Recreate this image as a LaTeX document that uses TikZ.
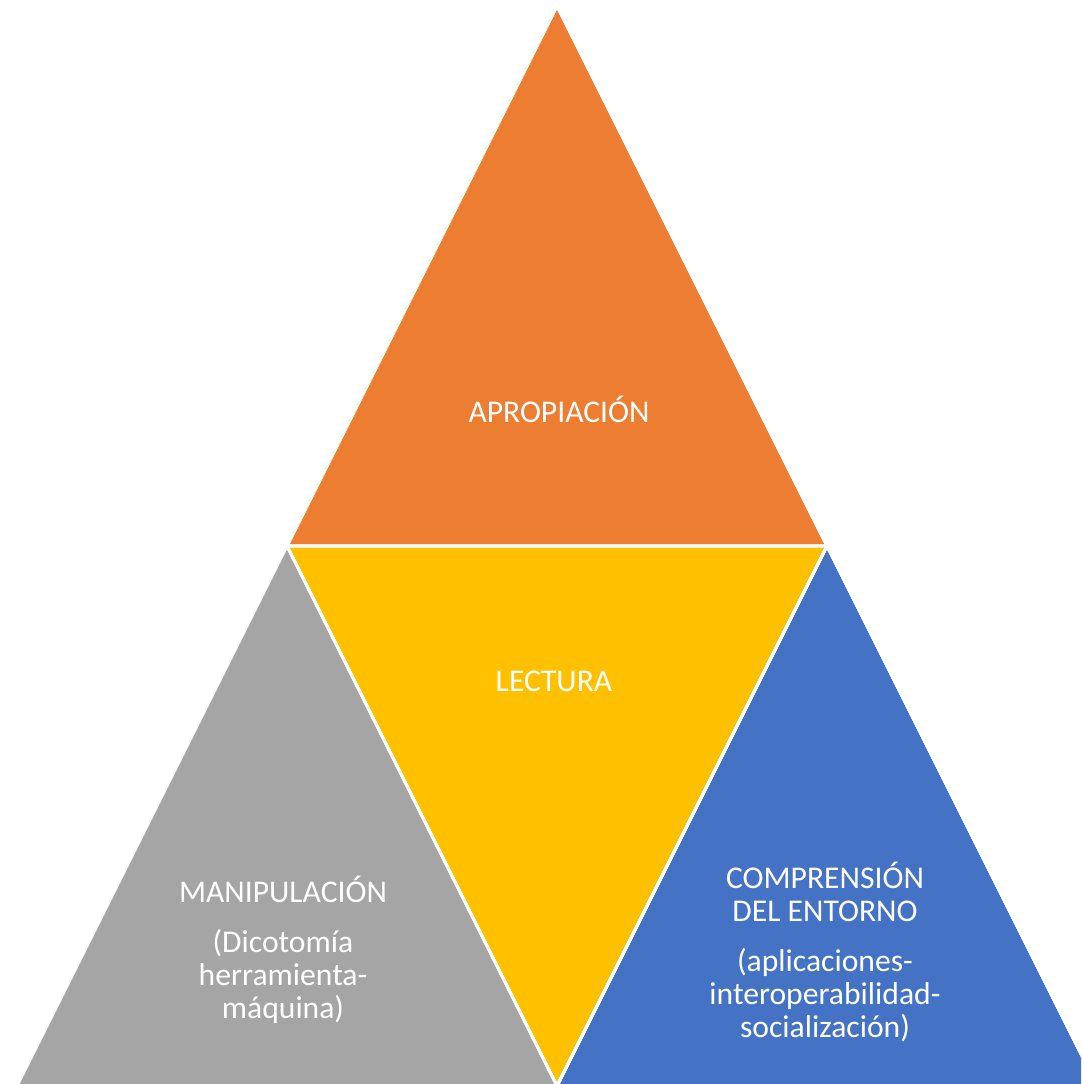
\documentclass[tikz,border=0pt]{standalone}
\usepackage{fontspec}
\setmainfont{Carlito}
\usepackage{xcolor}
\usetikzlibrary{positioning}
\definecolor{apOrange}{HTML}{ED7D31}
\definecolor{leYellow}{HTML}{FFC000}
\definecolor{maGray}{HTML}{A5A5A5}
\definecolor{coBlue}{HTML}{4472C4}
\tikzset{
  tri/.style={draw=white,line width=1.7pt,line join=miter},
  lbl/.style={text=white,align=center,font=\fontsize{18}{18.8}\selectfont}
}

\begin{document}
\begin{tikzpicture}[x=0.02cm,y=-0.02cm]
		\useasboundingbox (0,0) rectangle (1081,1084);
		\clip (0,0) rectangle (1081,1084);
		%
		\coordinate (T) at (557,6);
		\coordinate (L) at (287,546);
		\coordinate (R) at (827,546);
		\coordinate (BL) at (17,1086);
		\coordinate (BM) at (557,1086);
		\coordinate (BR) at (1097,1086);
		%
		\fill[tri,fill=apOrange] (T) -- (R) -- (L) -- cycle;
		\fill[tri,fill=leYellow] (L) -- (R) -- (BM) -- cycle;
		\fill[tri,fill=maGray] (L) -- (BM) -- (BL) -- cycle;
		\fill[tri,fill=coBlue] (R) -- (BR) -- (BM) -- cycle;
		\draw[tri] (T) -- (R) -- (L) -- cycle;
		\draw[tri] (L) -- (R) -- (BM) -- cycle;
		\draw[tri] (R) -- (BR) -- (BM) -- cycle;
		%
		\node[lbl] (apro) at (559,409) {APROPIACIÓN};
		\node[lbl] (lect) at (554,681) {LECTURA};
		\node[lbl] (mani) at (283,950) {MANIPULACIÓN\\[10pt](Dicotomía\\herramienta-\\máquina)};
		\node[lbl] (comp) at (825,952) {COMPRENSIÓN\\DEL ENTORNO\\[10pt](aplicaciones-\\interoperabilidad-\\socialización)};
\end{tikzpicture}
\end{document}
